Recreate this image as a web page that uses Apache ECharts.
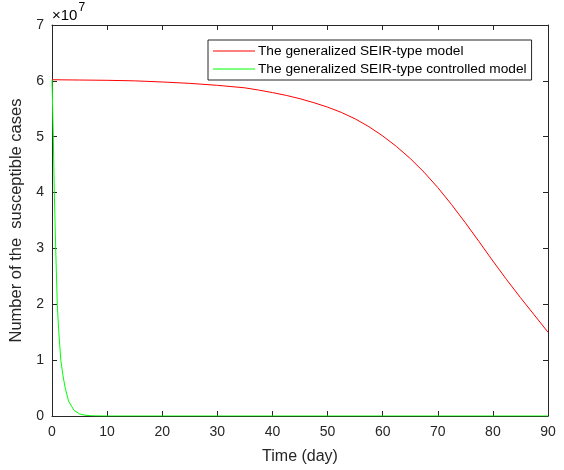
<!DOCTYPE html>
<html>
<head>
<meta charset="utf-8">
<script src="https://cdn.jsdelivr.net/npm/echarts@6/dist/echarts.min.js"></script>
<style>
  html, body {margin: 0; padding: 0; background: #fff;}
  #chart {width: 564px; height: 470px;}
</style>
</head>
<body>
<div id="chart"></div>
<script>
// values, y in units of 1e7
const seriesNames = ['The generalized SEIR-type model', 'The generalized SEIR-type controlled model'];
const redDays = [0, 5, 10, 15, 20, 25, 30, 35, 37.5, 40, 42.5, 45, 47.5, 50, 52.5, 55, 57.5, 60, 62.5, 65, 67.5, 70, 72.5, 75, 77.5, 80, 82.5, 85, 87.5, 90];
const redValues = [6.02, 6.015, 6.01, 6.0, 5.98, 5.955, 5.92, 5.875, 5.835, 5.79, 5.74, 5.68, 5.61, 5.53, 5.435, 5.32, 5.18, 5.015, 4.825, 4.61, 4.365, 4.09, 3.785, 3.46, 3.12, 2.775, 2.44, 2.12, 1.81, 1.50];
const greenDays = [0, 0.12, 0.24, 0.42, 0.67, 0.96, 1.2, 1.6, 2.0, 2.4, 3, 4, 5, 6, 7, 8, 10, 90];
const greenValues = [6.02, 5.5, 5.0, 4.0, 3.0, 2.0, 1.55, 1.0, 0.72, 0.5, 0.27, 0.1, 0.037, 0.014, 0.005, 0.002, 0, 0];
const xTicks = [0, 10, 20, 30, 40, 50, 60, 70, 80, 90];
const yTicks = [0, 1, 2, 3, 4, 5, 6, 7];

const axisColor = '#262626';
const font = 'Liberation Sans, Arial, Helvetica, sans-serif';

function pairs(xs, ys) {
  return xs.map((x, i) => [x, ys[i] * 1e7]);
}

const myChart = echarts.init(document.getElementById('chart'), null, {renderer: 'canvas'});

const baseX = {
  type: 'value',
  min: xTicks[0],
  max: xTicks[xTicks.length - 1],
  interval: 10,
  axisLine: {show: true, onZero: false, lineStyle: {color: axisColor, width: 1}},
  axisTick: {show: true, inside: true, length: 5, lineStyle: {color: axisColor}},
  splitLine: {show: false},
};
const baseY = {
  type: 'value',
  min: 0,
  max: yTicks[yTicks.length - 1] * 1e7,
  interval: 1e7,
  axisLine: {show: true, onZero: false, lineStyle: {color: axisColor, width: 1}},
  axisTick: {show: true, inside: true, length: 5, lineStyle: {color: axisColor}},
  splitLine: {show: false},
};

const option = {
  animation: false,
  backgroundColor: '#fff',
  grid: {left: 52, right: 16, top: 25, bottom: 54, containLabel: false},
  legend: {
    orient: 'vertical',
    left: 208,
    top: 40,
    icon: 'rect',
    itemWidth: 42,
    itemHeight: 1,
    itemGap: 4,
    padding: [4, 5, 4, 5],
    borderColor: axisColor,
    borderWidth: 1,
    backgroundColor: '#fff',
    textStyle: {fontFamily: font, fontSize: 13.7, color: '#000', padding: [0, 0, 0, -2]},
    data: seriesNames,
  },
  xAxis: [
    Object.assign({}, baseX, {
      position: 'bottom',
      name: 'Time (day)',
      nameLocation: 'middle',
      nameGap: 33,
      nameTextStyle: {fontFamily: font, fontSize: 16, color: axisColor},
      axisLabel: {fontFamily: font, fontSize: 14, color: axisColor, margin: 9},
    }),
    Object.assign({}, baseX, {position: 'top', axisLabel: {show: false}}),
  ],
  yAxis: [
    Object.assign({}, baseY, {
      position: 'left',
      name: 'Number of the  susceptible cases',
      nameLocation: 'middle',
      nameGap: 24,
      nameTextStyle: {fontFamily: font, fontSize: 16.5, color: axisColor},
      axisLabel: {
        fontFamily: font, fontSize: 14, color: axisColor, margin: 8,
        formatter: v => String(Math.round(v / 1e7)),
      },
    }),
    Object.assign({}, baseY, {position: 'right', axisLabel: {show: false}}),
  ],
  graphic: [{
    type: 'text',
    left: 52,
    top: 2,
    style: {
      text: '{a|×10}{b|7}',
      rich: {
        a: {fontFamily: font, fontSize: 15, color: axisColor, padding: [8, 0, 0, 0]},
        b: {fontFamily: font, fontSize: 12, color: axisColor, padding: [0, 0, 7, 1]},
      },
    },
  }],
  series: [
    {
      name: seriesNames[0],
      type: 'line',
      showSymbol: false,
      symbol: 'none',
      smooth: false,
      lineStyle: {color: '#ff0000', width: 1},
      itemStyle: {color: '#ff0000'},
      data: pairs(redDays, redValues),
      z: 3,
    },
    {
      name: seriesNames[1],
      type: 'line',
      showSymbol: false,
      symbol: 'none',
      smooth: false,
      lineStyle: {color: '#00ff00', width: 1},
      itemStyle: {color: '#00ff00'},
      data: pairs(greenDays, greenValues),
      z: 4,
    },
  ],
};

myChart.setOption(option);
</script>
</body>
</html>
